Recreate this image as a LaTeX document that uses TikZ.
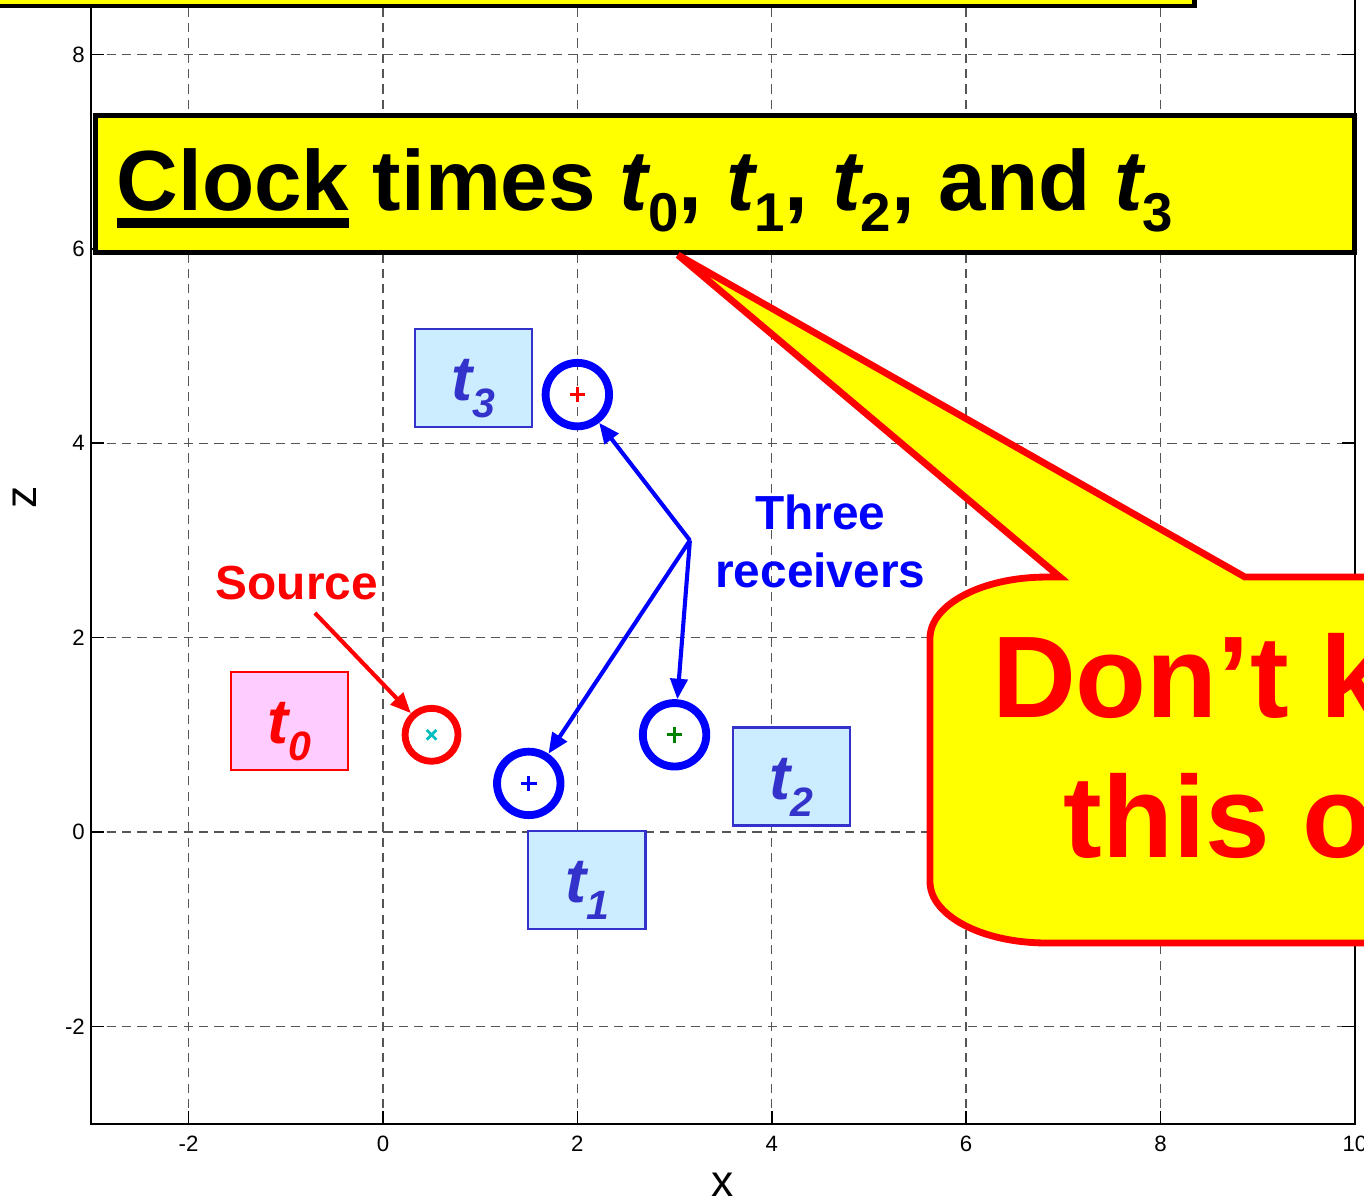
\documentclass[tikz,border=0pt]{standalone}
\usepackage{fontspec}
\setmainfont{Liberation Sans}
\usepackage{graphicx}
\usepackage{tikz}
\usetikzlibrary{arrows.meta}
\definecolor{banneryellow}{RGB}{255, 255, 0}
\definecolor{calloutred}{RGB}{255, 0, 0}
\definecolor{boxblue}{RGB}{204, 236, 255}
\definecolor{labelblue}{RGB}{51, 51, 204}
\definecolor{boxpink}{RGB}{255, 204, 255}
\definecolor{markgreen}{RGB}{0, 128, 0}
\definecolor{markcyan}{RGB}{0, 190, 190}
\definecolor{gridgray}{RGB}{85, 85, 85}

\newcommand{\tlabel}[1]{{\fontsize{18.5}{18.5}\selectfont\bfseries\itshape t\raisebox{-5pt}{\fontsize{12}{12}\selectfont #1}}}
\newcommand{\ttitle}[1]{{\itshape t}\raisebox{-6.4pt}{\fontsize{16}{16}\selectfont #1}}
\newcommand{\thickul}[1]{\setbox0\hbox{#1}\rlap{\rule[-5.3pt]{\wd0}{2.9pt}}\box0\relax}

\begin{document}
\begin{tikzpicture}[every node/.style={inner sep=0pt},
	gridline/.style={gridgray, line width=0.4pt, dash pattern=on 2.7pt off 1.8pt},
	ticklabel/.style={font=\fontsize{6.5}{6.5}\selectfont},
	timebox/.style={draw=labelblue, fill=boxblue, line width=0.6pt, text=labelblue, minimum width=1.204cm, text height=21pt, text depth=7.7pt},
	receiver/.style={circle, draw=blue, line width=2.3pt, minimum size=0.653cm},
	conn/.style={-{Triangle[length=6pt, width=5pt]}, line width=1.2pt},
	banner/.style={draw=black, fill=banneryellow, line width=1.46pt},
	callout/.style={draw=calloutred, fill=banneryellow, line width=2pt}]
	
	% Fix the page to the size of the reference
	\useasboundingbox (-3.940, -3.786) rectangle (10.093, 8.560);
	\clip (-3.940, -3.786) rectangle (10.093, 8.560);
	
	% --- Grid and axes ---
	\foreach \g in {-2,0,...,8} {
		\draw[gridline] (\g, -3) -- (\g, 10);
		\draw[gridline] (-3, \g) -- (10, \g);
	}
	\foreach \g in {-2,0,...,10} {
		\draw[line width=0.5pt] (\g, -3) -- ++(0, 0.13);
		\node[ticklabel] (xtick\g) at (\g, -3.21) {\g};
	}
	\foreach \g in {-2,0,...,8} {
		\draw[line width=0.5pt] (-3, \g) -- ++(0.13, 0);
		\draw[line width=0.5pt] (10, \g) -- ++(-0.13, 0);
		\node[ticklabel, anchor=east] (ztick\g) at (-3.06, \g) {\g};
	}
	\draw[line width=0.6pt] (-3, 10) -- (-3, -3) -- (10, -3) -- (10, 10);
	\node[font=\fontsize{13}{13}\selectfont] (xlabel) at (3.49, -3.632) {x};
	\node[font=\fontsize{13}{13}\selectfont, rotate=90] (zlabel) at (-3.683, 3.447) {z};
	
	% --- Clock time boxes ---
	\node[timebox, draw=calloutred, fill=boxpink, text=calloutred] (tzero) at (-0.962, 1.142) {\tlabel{0}};
	\node[timebox] (tone) at (2.099, -0.494) {\tlabel{1}};
	\node[timebox] (ttwo) at (4.203, 0.571) {\tlabel{2}};
	\node[timebox] (tthree) at (0.931, 4.671) {\tlabel{3}};
	
	% --- Source ---
	\node[circle, draw=calloutred, line width=2pt, minimum size=0.545cm] (src) at (0.5, 1) {};
	\draw[markcyan, line width=0.8pt] (src.center) +(-0.05, -0.05) -- +(0.05, 0.05) +(-0.05, 0.05) -- +(0.05, -0.05);
	\node[font=\fontsize{14}{16.8}\selectfont\bfseries, text=calloutred] (srclabel) at (-0.885, 2.56) {Source};
	\coordinate (srcfoot) at (-0.70, 2.253);
	\draw[conn, calloutred] (srcfoot) -- (src);
	
	% --- Receivers ---
	\node[receiver] (rone) at (1.5, 0.5) {};
	\node[receiver] (rtwo) at (3, 1) {};
	\node[receiver] (rthree) at (2, 4.5) {};
	\foreach \n/\c in {rone/blue, rtwo/markgreen, rthree/calloutred}
		\draw[\c, line width=0.8pt] (\n.center) +(-0.08, 0) -- +(0.08, 0) +(0, -0.08) -- +(0, 0.08);
	\node[font=\fontsize{14}{16.8}\selectfont\bfseries, text=blue, align=center] (rcvlabel) at (4.50, 2.99) {Three\\receivers};
	\coordinate (hub) at (3.158, 3.0);
	\foreach \n in {rone, rtwo, rthree}
		\draw[conn, blue] (hub) -- (\n);
	
	% --- Title banner ---
	\draw[banner] (-4.5, 8.498) rectangle (8.349, 9.5);
	\node[banner, minimum width=12.953cm, minimum height=1.409cm] (titlebox) at (3.518, 6.667) {};
	\node[anchor=base west, font=\fontsize{25}{30}\selectfont\bfseries] (title) at (-2.747, 6.399)
	{\thickul{Clock} times \ttitle{0}, \ttitle{1}, \ttitle{2}, and \ttitle{3}};
	
	% --- Callout ---
	\coordinate (tip) at (3.035, 5.936);
	\filldraw[callout] (tip) -- (8.868, 2.623) -- (10.6, 2.623) -- (10.6, -1.142) -- (6.828, -1.142)
		arc[start angle=270, end angle=180, x radius=1.2cm, y radius=0.63cm] -- (5.628, 1.993)
		arc[start angle=180, end angle=90, x radius=1.2cm, y radius=0.63cm] -- (6.965, 2.623) -- cycle;
	\node[anchor=base west, font=\fontsize{34}{40}\selectfont\bfseries, text=calloutred] (dont) at (6.259, 1.176) {Don’t k};
	\node[anchor=base west, font=\fontsize{34}{40}\selectfont\bfseries, text=calloutred] (thiso) at (6.996, -0.267) {this o};
\end{tikzpicture}
\end{document}
